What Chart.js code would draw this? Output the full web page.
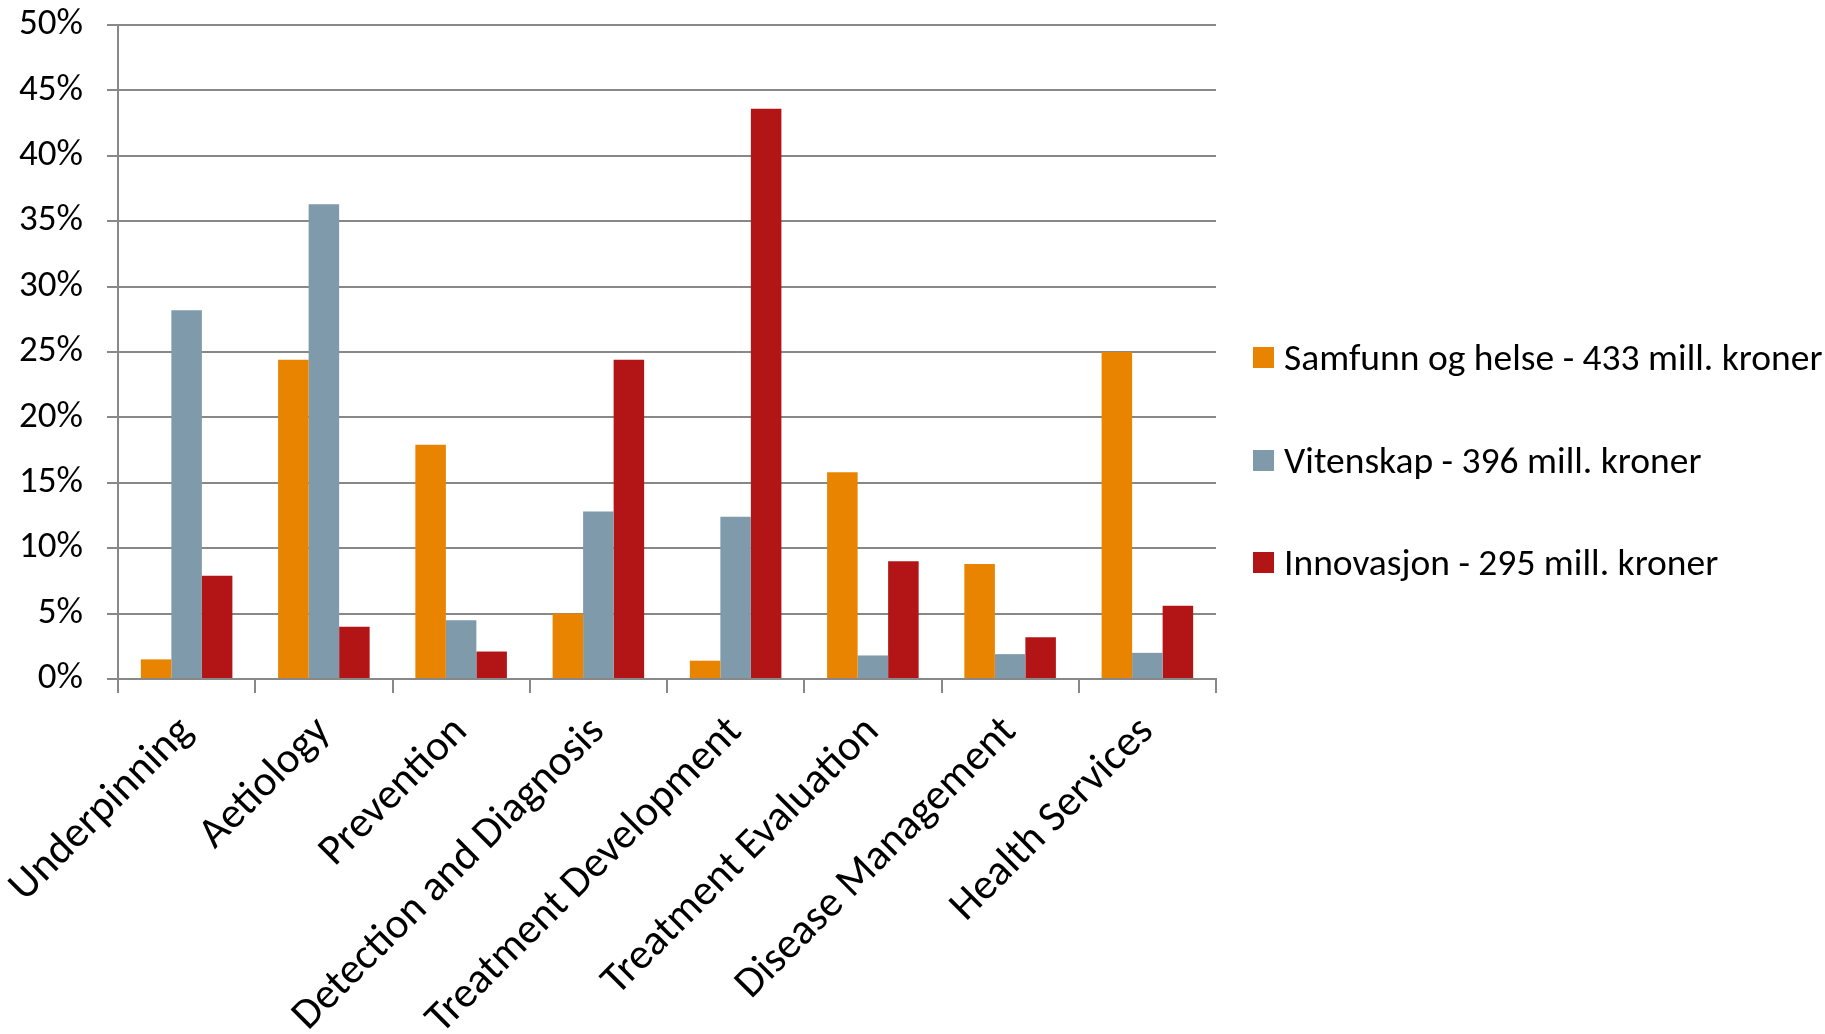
<!DOCTYPE html>
<html>
<head>
<meta charset="utf-8">
<script src="https://cdn.jsdelivr.net/npm/chart.js@4.4.1/dist/chart.umd.min.js"></script>
<style>
  html, body { margin: 0; padding: 0; background: #fff; }
  #wrap { position: relative; width: 1825px; height: 1034px; }
  #c { display: block; }
  #legend { position: absolute; left: 1253px; top: 0; font-family: Carlito, Lato, sans-serif; font-size: 37.5px; color: #000; }
  .item { position: absolute; display: flex; align-items: center; white-space: nowrap; transform: translateY(-50%); }
  .box { width: 21px; height: 21px; margin-right: 10px; }
</style>
</head>
<body>
<div id="wrap">
  <canvas id="c" width="1825" height="1034"></canvas>
  <div id="legend"></div>
</div>
<script>
"use strict";

const categories = ["Underpinning", "Aetiology", "Prevention", "Detection and Diagnosis",
  "Treatment Development", "Treatment Evaluation", "Disease Management", "Health Services"];
const samfunn = [1.5, 24.4, 17.9, 5.0, 1.4, 15.8, 8.8, 25.0];
const vitenskap = [28.2, 36.3, 4.5, 12.8, 12.4, 1.8, 1.9, 2.0];
const innovasjon = [7.9, 4.0, 2.1, 24.4, 43.6, 9.0, 3.2, 5.6];
const seriesNames = ["Samfunn og helse - 433 mill. kroner", "Vitenskap - 396 mill. kroner", "Innovasjon - 295 mill. kroner"];
const seriesColors = ["#E88400", "#7E9AAB", "#B31517"];

const FONT = "Carlito, Lato, sans-serif";
const gridColor = "#888888";

const chart = new Chart(document.getElementById("c"), {
  type: "bar",
  data: {
    labels: categories,
    datasets: [samfunn, vitenskap, innovasjon].map((d, i) => ({
      label: seriesNames[i],
      data: d,
      backgroundColor: seriesColors[i],
      borderWidth: 0,
      categoryPercentage: 0.667,
      barPercentage: 1.0,
    })),
  },
  options: {
    responsive: false,
    animation: false,
    layout: { autoPadding: false, padding: { left: 0, right: 609, top: 25, bottom: 0 } },
    plugins: { legend: { display: false }, tooltip: { enabled: false } },
    scales: {
      x: {
        grid: { drawOnChartArea: false, drawTicks: true, tickLength: 14, color: gridColor, lineWidth: 2, offset: true },
        border: { color: gridColor, width: 2 },
        ticks: {
          color: "#000",
          font: { family: FONT, size: 43 },
          autoSkip: false,
          minRotation: 45,
          maxRotation: 45,
          padding: 14,
        },
        afterFit: (s) => { s.height = 355; s.paddingLeft = 0; s.paddingRight = 0; },
      },
      y: {
        min: 0,
        max: 50,
        grid: { color: gridColor, lineWidth: 2, tickLength: 11 },
        border: { color: gridColor, width: 2 },
        ticks: {
          stepSize: 5,
          color: "#000",
          font: { family: FONT, size: 37, lineHeight: 0.6 },
          padding: 24,
          callback: (v) => v + "%",
        },
        afterFit: (s) => { s.width = 118; s.paddingTop = 0; s.paddingBottom = 0; },
      },
    },
  },
});

const legendY = [357, 460, 562];
document.getElementById("legend").innerHTML = seriesNames
  .map((n, i) => `<div class="item" style="top:${legendY[i]}px"><span class="box" style="background:${seriesColors[i]}"></span><span>${n}</span></div>`)
  .join("");
</script>
</body>
</html>
